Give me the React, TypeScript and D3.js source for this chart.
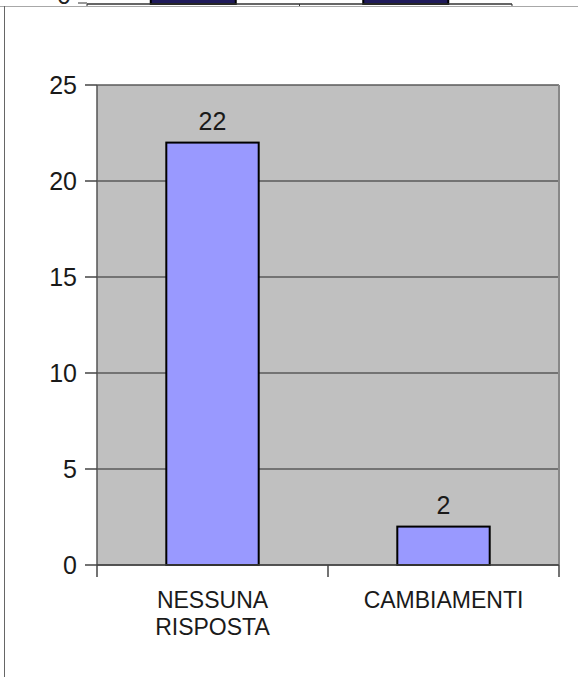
import React from "react";
import * as d3 from "d3";

const categories = ["NESSUNA RISPOSTA", "CAMBIAMENTI"];
const values = [22, 2];
const yTicks = [0, 5, 10, 15, 20, 25];
// previous chart (only its bottom edge is visible)
const prevValues = [10, 10];

const W = 578;
const H = 677;
const FONT = "'Liberation Sans', Arial, sans-serif";

export default function App() {
  const left = 97, right = 559, top = 85, bottom = 565;
  const x = d3.scaleBand<string>().domain(categories).range([left, right]).paddingInner(0).paddingOuter(0);
  const y = d3.scaleLinear().domain([0, 25]).range([bottom, top]);
  const barW = x.bandwidth() * 0.4;

  // previous chart fragment
  const pLeft = 87, pRight = 512, pBase = 4;
  const px = d3.scaleBand<string>().domain(categories).range([pLeft, pRight]);
  const py = d3.scaleLinear().domain([0, 25]).range([pBase, pBase - 480]);
  const pBarW = px.bandwidth() * 0.4;

  return (
    <svg width={W} height={H} style={{ position: "absolute", left: 0, top: 0, background: "#fff" }} fontFamily={FONT}>
      {/* previous chart fragment */}
      <g>
        {categories.map((c, i) => (
          <rect key={c} x={px(c)! + (px.bandwidth() - pBarW) / 2} y={py(prevValues[i])} width={pBarW}
            height={py(0) - py(prevValues[i])} fill="#1f1a5a" stroke="#000" strokeWidth={2} />
        ))}
        <line x1={pLeft} x2={pRight} y1={pBase} y2={pBase} stroke="#333" strokeWidth={1.5} />
        <line x1={78} x2={pLeft} y1={3} y2={3} stroke="#333" strokeWidth={1} />
        {[...categories.map(c => px(c)!), pRight].map((t, i) => (
          <line key={i} x1={t} x2={t} y1={pBase} y2={6} stroke="#333" strokeWidth={1} />
        ))}
        <text x={71} y={4} textAnchor="end" fontSize={25} fill="#222">0</text>
      </g>
      {/* frame lines */}
      <line x1={0} x2={W} y1={6.5} y2={6.5} stroke="#a8a8a8" strokeWidth={1} />
      <line x1={4.5} x2={4.5} y1={6} y2={H} stroke="#666" strokeWidth={1} />

      {/* plot area */}
      <rect x={left} y={top} width={right - left} height={bottom - top} fill="#c0c0c0" />
      {yTicks.map(t => (
        <line key={t} x1={left} x2={right} y1={y(t)} y2={y(t)} stroke="#5a5a5a" strokeWidth={1.5} />
      ))}
      <line x1={right} x2={right} y1={top} y2={bottom} stroke="#888" strokeWidth={2} />
      <line x1={left} x2={left} y1={top} y2={bottom} stroke="#555" strokeWidth={1.5} />

      {/* bars */}
      {categories.map((c, i) => (
        <g key={c}>
          <rect x={x(c)! + (x.bandwidth() - barW) / 2} y={y(values[i])} width={barW}
            height={y(0) - y(values[i])} fill="#9999ff" stroke="#000" strokeWidth={2} />
          <text x={x(c)! + x.bandwidth() / 2} y={y(values[i]) - 13} textAnchor="middle" fontSize={25} fill="#1a1a1a">
            {values[i]}
          </text>
        </g>
      ))}
      <line x1={left} x2={right} y1={bottom} y2={bottom} stroke="#444" strokeWidth={1.5} />

      {/* y axis */}
      {yTicks.map(t => (
        <g key={t}>
          <line x1={85} x2={left} y1={y(t)} y2={y(t)} stroke="#444" strokeWidth={1.5} />
          <text x={77} y={y(t)} dy="0.36em" textAnchor="end" fontSize={25} fill="#1a1a1a">{t}</text>
        </g>
      ))}

      {/* x axis ticks */}
      {[...categories.map(c => x(c)!), right].map((t, i) => (
        <line key={i} x1={t} x2={t} y1={bottom} y2={bottom + 12} stroke="#444" strokeWidth={1.5} />
      ))}
      {categories.map(c => {
        const words = c.split(" ");
        return (
          <text key={c} x={x(c)! + x.bandwidth() / 2} y={608} textAnchor="middle" fontSize={23} fill="#1a1a1a">
            {words.map((w, j) => (
              <tspan key={j} x={x(c)! + x.bandwidth() / 2} dy={j === 0 ? 0 : 27}>{w}</tspan>
            ))}
          </text>
        );
      })}
    </svg>
  );
}
